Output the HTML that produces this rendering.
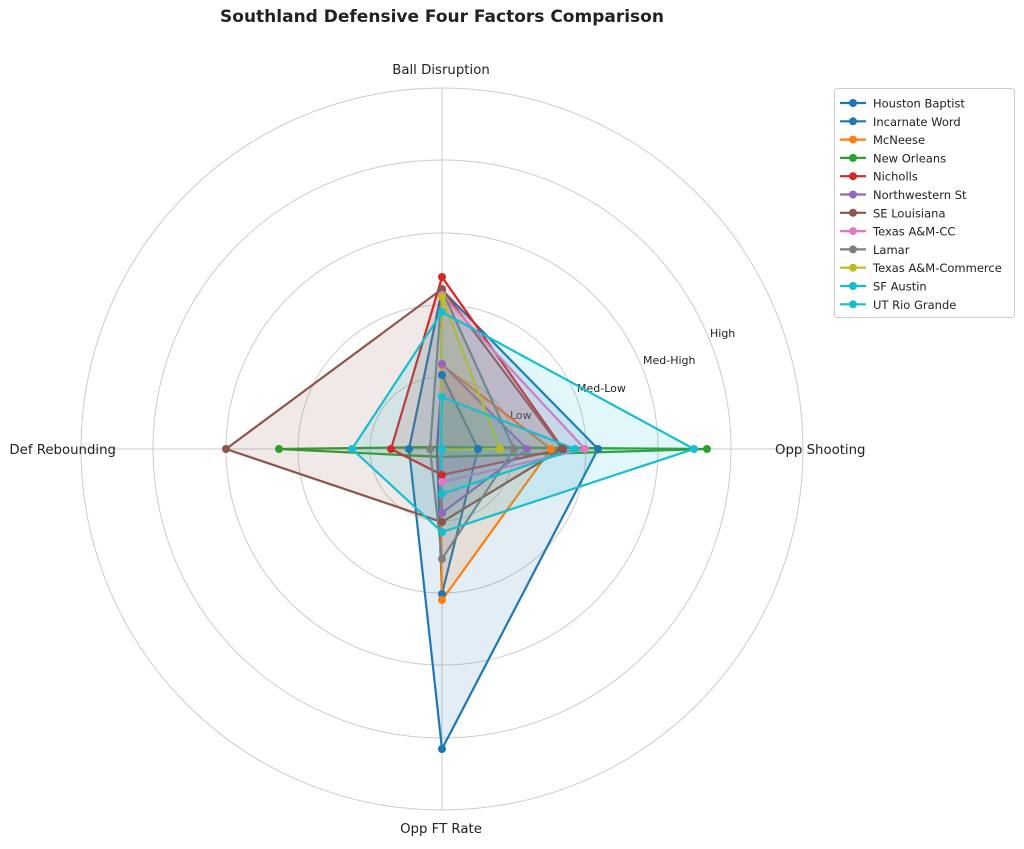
<!DOCTYPE html><html><head><style>body{margin:0;background:#fff}svg{font-family:"DejaVu Sans","Liberation Sans",sans-serif}</style></head><body>
<svg width="1024" height="844" xmlns="http://www.w3.org/2000/svg">
<text x="442" y="22" text-anchor="middle" font-size="17" font-weight="bold" fill="#222">Southland Defensive Four Factors Comparison</text>
<g fill="none" stroke="#ccc" stroke-width="1">
<circle cx="442" cy="449" r="72"/><circle cx="442" cy="449" r="144"/><circle cx="442" cy="449" r="216"/><circle cx="442" cy="449" r="289"/><circle cx="442" cy="449" r="361"/>
<line x1="442" y1="88" x2="442" y2="810"/><line x1="81" y1="449" x2="803" y2="449"/></g>
<g font-size="13.3" fill="#222">
<text x="441" y="74" text-anchor="middle">Ball Disruption</text>
<text x="775" y="454">Opp Shooting</text>
<text x="441" y="833" text-anchor="middle">Opp FT Rate</text>
<text x="116" y="454" text-anchor="end">Def Rebounding</text></g>
<g font-size="11" fill="#222">
<text x="510" y="419">Low</text><text x="577" y="392">Med-Low</text><text x="643" y="364">Med-High</text><text x="710" y="337">High</text></g>
<g stroke-width="2.2" fill-opacity="0.13">
<polygon points="442,290 598,449 442,749 409,449" fill="#1f77b4" stroke="#1f77b4"/>
<polygon points="442,375 478,449 442,594 437,449" fill="#1f77b4" stroke="#1f77b4"/>
<polygon points="442,365 551,449 442,600 440,449" fill="#ff7f0e" stroke="#ff7f0e"/>
<polygon points="442,447 707,449 442,457 279,449" fill="#2ca02c" stroke="#2ca02c"/>
<polygon points="442,277 563,449 442,475 391,449" fill="#d62728" stroke="#d62728"/>
<polygon points="442,364 527,449 442,513 440,449" fill="#9467bd" stroke="#9467bd"/>
<polygon points="442,289 562,449 442,522 226,449" fill="#8c564b" stroke="#8c564b"/>
<polygon points="442,295 585,449 442,482 440,449" fill="#e377c2" stroke="#e377c2"/>
<polygon points="442,290 514,449 442,559 430,449" fill="#7f7f7f" stroke="#7f7f7f"/>
<polygon points="442,297 500,449 442,450 441,449" fill="#bcbd22" stroke="#bcbd22"/>
<polygon points="442,312 694,449 442,532 352,449" fill="#17becf" stroke="#17becf"/>
<polygon points="442,397 575,449 442,494 441,449" fill="#17becf" stroke="#17becf"/>
</g>
<g>
<g fill="#1f77b4"><circle cx="442" cy="290" r="4"/><circle cx="598" cy="449" r="4"/><circle cx="442" cy="749" r="4"/><circle cx="409" cy="449" r="4"/>
<circle cx="442" cy="375" r="4"/><circle cx="478" cy="449" r="4"/><circle cx="442" cy="594" r="4"/></g>
<g fill="#ff7f0e"><circle cx="442" cy="365" r="4"/><circle cx="551" cy="449" r="4"/><circle cx="442" cy="600" r="4"/></g>
<g fill="#2ca02c"><circle cx="707" cy="449" r="4"/><circle cx="279" cy="449" r="4"/></g>
<g fill="#d62728"><circle cx="442" cy="277" r="4"/><circle cx="563" cy="449" r="4"/><circle cx="442" cy="475" r="4"/><circle cx="391" cy="449" r="4"/></g>
<g fill="#9467bd"><circle cx="442" cy="364" r="4"/><circle cx="527" cy="449" r="4"/><circle cx="442" cy="513" r="4"/></g>
<g fill="#8c564b"><circle cx="442" cy="289" r="4"/><circle cx="562" cy="449" r="4"/><circle cx="442" cy="522" r="4"/><circle cx="226" cy="449" r="4"/></g>
<g fill="#e377c2"><circle cx="442" cy="295" r="4"/><circle cx="585" cy="449" r="4"/><circle cx="442" cy="482" r="4"/></g>
<g fill="#7f7f7f"><circle cx="514" cy="449" r="4"/><circle cx="442" cy="559" r="4"/><circle cx="430" cy="449" r="4"/></g>
<g fill="#bcbd22"><circle cx="442" cy="297" r="4"/><circle cx="500" cy="449" r="4"/></g>
<g fill="#17becf"><circle cx="442" cy="312" r="4"/><circle cx="694" cy="449" r="4"/><circle cx="442" cy="532" r="4"/><circle cx="352" cy="449" r="4"/>
<circle cx="442" cy="397" r="4"/><circle cx="575" cy="449" r="4"/><circle cx="442" cy="494" r="4"/><circle cx="442" cy="449" r="4"/></g>
</g>
<rect x="834.5" y="88.5" width="180" height="229" rx="3" fill="#fff" stroke="#ccc"/>
<g stroke-width="2.2">
<line x1="840" y1="103" x2="866" y2="103" stroke="#1f77b4"/>
<line x1="840" y1="121.3" x2="866" y2="121.3" stroke="#1f77b4"/>
<line x1="840" y1="139.6" x2="866" y2="139.6" stroke="#ff7f0e"/>
<line x1="840" y1="157.9" x2="866" y2="157.9" stroke="#2ca02c"/>
<line x1="840" y1="176.2" x2="866" y2="176.2" stroke="#d62728"/>
<line x1="840" y1="194.5" x2="866" y2="194.5" stroke="#9467bd"/>
<line x1="840" y1="212.8" x2="866" y2="212.8" stroke="#8c564b"/>
<line x1="840" y1="231.1" x2="866" y2="231.1" stroke="#e377c2"/>
<line x1="840" y1="249.4" x2="866" y2="249.4" stroke="#7f7f7f"/>
<line x1="840" y1="267.7" x2="866" y2="267.7" stroke="#bcbd22"/>
<line x1="840" y1="286" x2="866" y2="286" stroke="#17becf"/>
<line x1="840" y1="304.3" x2="866" y2="304.3" stroke="#17becf"/>
</g>
<g>
<circle cx="853" cy="103" r="4" fill="#1f77b4"/><circle cx="853" cy="121.3" r="4" fill="#1f77b4"/><circle cx="853" cy="139.6" r="4" fill="#ff7f0e"/><circle cx="853" cy="157.9" r="4" fill="#2ca02c"/><circle cx="853" cy="176.2" r="4" fill="#d62728"/><circle cx="853" cy="194.5" r="4" fill="#9467bd"/><circle cx="853" cy="212.8" r="4" fill="#8c564b"/><circle cx="853" cy="231.1" r="4" fill="#e377c2"/><circle cx="853" cy="249.4" r="4" fill="#7f7f7f"/><circle cx="853" cy="267.7" r="4" fill="#bcbd22"/><circle cx="853" cy="286" r="4" fill="#17becf"/><circle cx="853" cy="304.3" r="4" fill="#17becf"/>
</g>
<g font-size="11.5" fill="#222">
<text x="873" y="107.5">Houston Baptist</text>
<text x="873" y="125.8">Incarnate Word</text>
<text x="873" y="144.1">McNeese</text>
<text x="873" y="162.4">New Orleans</text>
<text x="873" y="180.7">Nicholls</text>
<text x="873" y="199">Northwestern St</text>
<text x="873" y="217.3">SE Louisiana</text>
<text x="873" y="235.6">Texas A&amp;M-CC</text>
<text x="873" y="253.9">Lamar</text>
<text x="873" y="272.2">Texas A&amp;M-Commerce</text>
<text x="873" y="290.5">SF Austin</text>
<text x="873" y="308.8">UT Rio Grande</text>
</g>
</svg></body></html>
